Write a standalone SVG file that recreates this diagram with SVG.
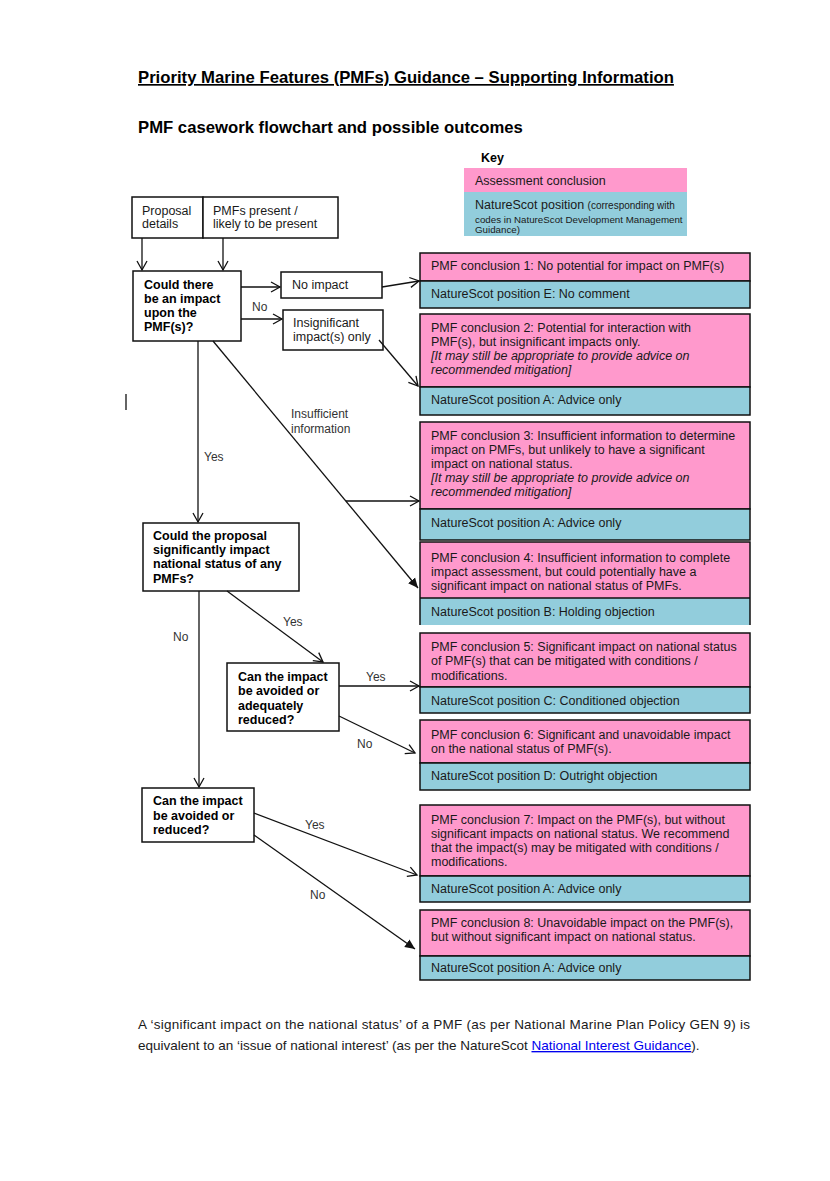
<svg xmlns="http://www.w3.org/2000/svg" width="830" height="1181" viewBox="0 0 830 1181">
<style>
text{font-family:"Liberation Sans",Arial,sans-serif;fill:#1a1a1a}
.h{font-size:16.7px;font-weight:bold;fill:#000}
.t{font-size:12.5px}
.b{font-size:12.5px;font-weight:bold;fill:#000}
.i{font-style:italic}
.lbl{font-size:12px;fill:#333}
.box{fill:#fff;stroke:#111;stroke-width:1.5}
.pk{fill:#FF99CC;stroke:#111;stroke-width:1.5}
.bl{fill:#92CDDC;stroke:#111;stroke-width:1.5}
.c{stroke:#111;stroke-width:1.3;fill:none}
</style>
<defs>
<marker id="open" markerUnits="userSpaceOnUse" markerWidth="12" markerHeight="12" refX="10" refY="6" orient="auto">
<path d="M1,1 L10,6 L1,11" fill="none" stroke="#111" stroke-width="1.3"/>
</marker>
<marker id="fill" markerUnits="userSpaceOnUse" markerWidth="12" markerHeight="12" refX="10" refY="6" orient="auto">
<path d="M0,1.5 L10,6 L0,10.5 z" fill="#111"/>
</marker>
</defs>
<rect width="830" height="1181" fill="#fff"/>

<g id="title">
<text class="h" x="138" y="83" text-decoration="underline">Priority Marine Features (PMFs) Guidance – Supporting Information</text>
<text class="h" x="138" y="133">PMF casework flowchart and possible outcomes</text>
</g>

<g id="key">
<text class="b" x="481" y="162">Key</text>
<rect x="464" y="168" width="223" height="24" fill="#FF99CC"/>
<rect x="464" y="192" width="223" height="44" fill="#92CDDC"/>
<text class="t" x="475" y="185">Assessment conclusion</text>
<text class="t" x="475" y="209">NatureScot position <tspan style="font-size:10px">(corresponding with</tspan></text>
<text x="475" y="223" style="font-size:9.75px">codes in  NatureScot Development Management</text>
<text x="475" y="233" style="font-size:9.75px">Guidance)</text>
</g>

<g id="proposal">
<rect class="box" x="132" y="197" width="71" height="41"/>
<text class="t" x="142" y="215">Proposal</text>
<text class="t" x="142" y="228">details</text>
</g>
<g id="pmfs-present">
<rect class="box" x="203" y="197" width="135" height="41"/>
<text class="t" x="213" y="215">PMFs present /</text>
<text class="t" x="213" y="228">likely to be present</text>
</g>

<g id="q1">
<rect class="box" x="133" y="271" width="108" height="70"/>
<text class="b" x="144" y="289">Could there</text>
<text class="b" x="144" y="303">be an impact</text>
<text class="b" x="144" y="317">upon the</text>
<text class="b" x="144" y="331">PMF(s)?</text>
</g>
<g id="no-impact">
<rect class="box" x="281" y="272" width="101" height="26"/>
<text class="t" x="292" y="289">No impact</text>
</g>
<g id="insignificant">
<rect class="box" x="283" y="310" width="100" height="40"/>
<text class="t" x="293" y="327">Insignificant</text>
<text class="t" x="293" y="341">impact(s) only</text>
</g>
<g id="q2">
<rect class="box" x="143" y="523" width="156" height="68"/>
<text class="b" x="153" y="540">Could the proposal</text>
<text class="b" x="153" y="554">significantly impact</text>
<text class="b" x="153" y="568">national status of any</text>
<text class="b" x="153" y="583">PMFs?</text>
</g>
<g id="q3">
<rect class="box" x="227" y="663" width="112" height="68"/>
<text class="b" x="238" y="681">Can the impact</text>
<text class="b" x="238" y="695">be avoided or</text>
<text class="b" x="238" y="710">adequately</text>
<text class="b" x="238" y="724">reduced?</text>
</g>
<g id="q4">
<rect class="box" x="142" y="788" width="112" height="54"/>
<text class="b" x="153" y="805">Can the impact</text>
<text class="b" x="153" y="820">be avoided or</text>
<text class="b" x="153" y="834">reduced?</text>
</g>

<g id="c1">
<rect class="pk" x="420" y="253" width="330" height="28"/>
<rect class="bl" x="420" y="281" width="330" height="27"/>
<text class="t" x="431" y="270">PMF conclusion 1: No potential for impact on PMF(s)</text>
<text class="t" x="431" y="298">NatureScot position E: No comment</text>
</g>
<g id="c2">
<rect class="pk" x="420" y="314" width="330" height="73"/>
<rect class="bl" x="420" y="387" width="330" height="28"/>
<text class="t" x="431" y="332">PMF conclusion 2: Potential for interaction with</text>
<text class="t" x="431" y="346">PMF(s), but insignificant impacts only.</text>
<text class="t i" x="431" y="360">[It may still be appropriate to provide advice on</text>
<text class="t i" x="431" y="374">recommended mitigation]</text>
<text class="t" x="431" y="404">NatureScot position A: Advice only</text>
</g>
<g id="c3">
<rect class="pk" x="420" y="422" width="330" height="87"/>
<rect class="bl" x="420" y="509" width="330" height="31"/>
<text class="t" x="431" y="440">PMF conclusion 3: Insufficient information to determine</text>
<text class="t" x="431" y="454">impact on PMFs, but unlikely to have a significant</text>
<text class="t" x="431" y="468">impact on national status.</text>
<text class="t i" x="431" y="482">[It may still be appropriate to provide advice on</text>
<text class="t i" x="431" y="496">recommended mitigation]</text>
<text class="t" x="431" y="527">NatureScot position A: Advice only</text>
</g>
<g id="c4">
<rect x="420" y="542" width="330" height="56" fill="#FF99CC"/>
<rect x="420" y="598" width="330" height="27" fill="#92CDDC"/>
<path d="M420,625 V542 H750 V625 M420,598 H750" fill="none" stroke="#111" stroke-width="1.5"/>
<text class="t" x="431" y="562">PMF conclusion 4: Insufficient information to complete</text>
<text class="t" x="431" y="576">impact assessment, but could potentially have a</text>
<text class="t" x="431" y="590">significant impact on national status of PMFs.</text>
<text class="t" x="431" y="616">NatureScot position B: Holding objection</text>
</g>
<g id="c5">
<rect class="pk" x="420" y="633" width="330" height="54"/>
<rect class="bl" x="420" y="687" width="330" height="26"/>
<text class="t" x="431" y="651">PMF conclusion 5: Significant impact on national status</text>
<text class="t" x="431" y="665">of PMF(s) that can be mitigated with conditions /</text>
<text class="t" x="431" y="680">modifications.</text>
<text class="t" x="431" y="705">NatureScot position C: Conditioned objection</text>
</g>
<g id="c6">
<rect class="pk" x="420" y="720" width="330" height="43"/>
<rect class="bl" x="420" y="763" width="330" height="27"/>
<text class="t" x="431" y="739">PMF conclusion 6: Significant and unavoidable impact</text>
<text class="t" x="431" y="753">on the national status of PMF(s).</text>
<text class="t" x="431" y="780">NatureScot position D: Outright objection</text>
</g>
<g id="c7">
<rect class="pk" x="420" y="805" width="330" height="71"/>
<rect class="bl" x="420" y="876" width="330" height="26"/>
<text class="t" x="431" y="824">PMF conclusion 7: Impact on the PMF(s), but without</text>
<text class="t" x="431" y="838">significant impacts on national status. We recommend</text>
<text class="t" x="431" y="852">that the impact(s) may be mitigated with conditions /</text>
<text class="t" x="431" y="866">modifications.</text>
<text class="t" x="431" y="893">NatureScot position A: Advice only</text>
</g>
<g id="c8">
<rect class="pk" x="420" y="910" width="330" height="46"/>
<rect class="bl" x="420" y="956" width="330" height="24"/>
<text class="t" x="431" y="927">PMF conclusion 8: Unavoidable impact on the PMF(s),</text>
<text class="t" x="431" y="941">but without significant impact on national status.</text>
<text class="t" x="431" y="972">NatureScot position A: Advice only</text>
</g>

<g id="connectors">
<line class="c" x1="142" y1="238" x2="142" y2="270" marker-end="url(#open)"/>
<line class="c" x1="223" y1="238" x2="223" y2="270" marker-end="url(#open)"/>
<line class="c" x1="241" y1="287" x2="280" y2="287" marker-end="url(#open)"/>
<line class="c" x1="241" y1="319" x2="282" y2="319" marker-end="url(#open)"/>
<line class="c" x1="382" y1="287" x2="419" y2="281" marker-end="url(#open)"/>
<line class="c" x1="379" y1="340" x2="418" y2="386" marker-end="url(#open)"/>
<line class="c" x1="198" y1="341" x2="198" y2="522" marker-end="url(#open)"/>
<line class="c" x1="213" y1="341" x2="418" y2="588" marker-end="url(#fill)"/>
<line class="c" x1="346" y1="501" x2="419" y2="501" marker-end="url(#open)"/>
<line class="c" x1="199" y1="591" x2="199" y2="787" marker-end="url(#open)"/>
<line class="c" x1="227" y1="591" x2="323" y2="662" marker-end="url(#open)"/>
<line class="c" x1="339" y1="686" x2="419" y2="686" marker-end="url(#open)"/>
<line class="c" x1="339" y1="716" x2="415" y2="753" marker-end="url(#open)"/>
<line class="c" x1="254" y1="813" x2="417" y2="875" marker-end="url(#open)"/>
<line class="c" x1="254" y1="835" x2="415" y2="949" marker-end="url(#fill)"/>
<text class="lbl" x="252" y="311">No</text>
<text class="lbl" x="291" y="418">Insufficient</text>
<text class="lbl" x="291" y="433">information</text>
<text class="lbl" x="204" y="461">Yes</text>
<text class="lbl" x="173" y="641">No</text>
<text class="lbl" x="283" y="626">Yes</text>
<text class="lbl" x="366" y="681">Yes</text>
<text class="lbl" x="357" y="748">No</text>
<text class="lbl" x="305" y="829">Yes</text>
<text class="lbl" x="310" y="899">No</text>
</g>

<line x1="126" y1="394" x2="126" y2="410" stroke="#111" stroke-width="1.3"/>

<g id="footer">
<text x="138" y="1029" style="font-size:13.5px" textLength="612" lengthAdjust="spacing">A ‘significant impact on the national status’ of a PMF (as per National Marine Plan Policy GEN 9) is</text>
<text x="138" y="1050" style="font-size:13.5px">equivalent to an ‘issue of national interest’ (as per the NatureScot <tspan fill="#0000EE" text-decoration="underline">National Interest Guidance</tspan>).</text>
</g>
</svg>
